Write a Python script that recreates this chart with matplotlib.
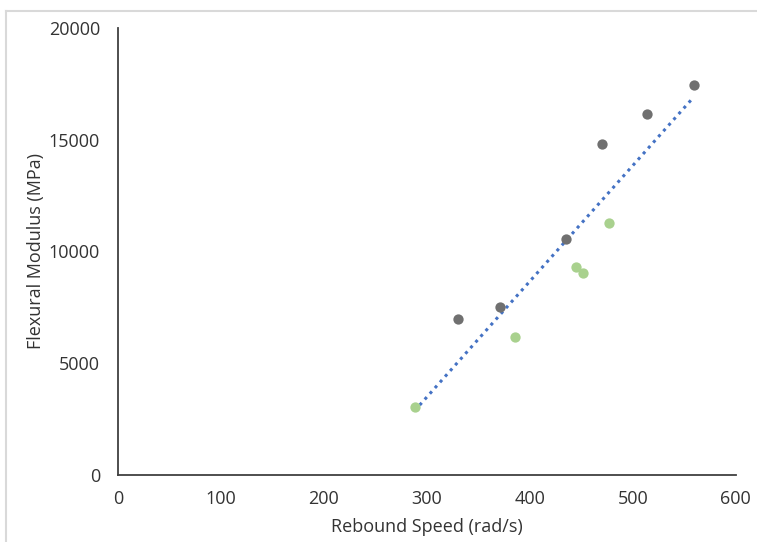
import numpy as np
import matplotlib
matplotlib.use("Agg")
import matplotlib.pyplot as plt
from matplotlib.lines import Line2D

plt.rcParams["font.family"] = ["Open Sans", "DejaVu Sans"]

# Rebound speed (rad/s) vs flexural modulus (MPa)
gray_speed = [330, 371, 435, 470, 514, 559]
gray_modulus = [6980, 7520, 10560, 14810, 16150, 17450]
green_speed = [288, 386, 445, 452, 477]
green_modulus = [3040, 6170, 9310, 9040, 11280]

x_ticks = [0, 100, 200, 300, 400, 500, 600]
y_ticks = [0, 5000, 10000, 15000, 20000]


def main() -> None:
    fig = plt.figure(figsize=(7.57, 5.42), dpi=100)
    ax = fig.add_axes([0.156, 0.124, 0.816, 0.824])

    ax.scatter(gray_speed, gray_modulus, s=55, color="#707070", zorder=3, linewidths=0)
    ax.scatter(green_speed, green_modulus, s=55, color="#a9d18e", zorder=3, linewidths=0)

    # linear trendline over all points
    all_x = np.array(gray_speed + green_speed, dtype=float)
    all_y = np.array(gray_modulus + green_modulus, dtype=float)
    slope, intercept = np.polyfit(all_x, all_y, 1)
    tx = np.array([all_x.min(), all_x.max()])
    ax.plot(tx, slope * tx + intercept, color="#4472c4", linestyle=(0, (1, 1.5)),
            linewidth=2.2, zorder=2)

    ax.set_xlim(0, 600)
    ax.set_ylim(0, 20000)
    ax.set_xticks(x_ticks)
    ax.set_yticks(y_ticks)
    ax.tick_params(length=0, labelsize=13, colors="#333333")
    ax.tick_params(axis="x", pad=11)
    ax.tick_params(axis="y", pad=13)
    for side in ["top", "right"]:
        ax.spines[side].set_visible(False)
    for side in ["left", "bottom"]:
        ax.spines[side].set_color("#404040")
        ax.spines[side].set_linewidth(1.3)

    ax.set_xlabel("Rebound Speed (rad/s)", fontsize=13, color="#333333")
    ax.set_ylabel("Flexural Modulus (MPa)", fontsize=13, color="#333333")
    ax.xaxis.set_label_coords(0.5, -0.096)
    ax.yaxis.set_label_coords(-0.118, 0.5)

    # thin frame remains at top and left edge
    fig.add_artist(Line2D([0.008, 1.0], [0.980, 0.980], transform=fig.transFigure,
                          color="#d9d9d9", linewidth=1.5))
    fig.add_artist(Line2D([0.008, 0.008], [0.0, 0.980], transform=fig.transFigure,
                          color="#d9d9d9", linewidth=1.5))

    fig.savefig("out.png", dpi=100)


if __name__ == "__main__":
    main()
